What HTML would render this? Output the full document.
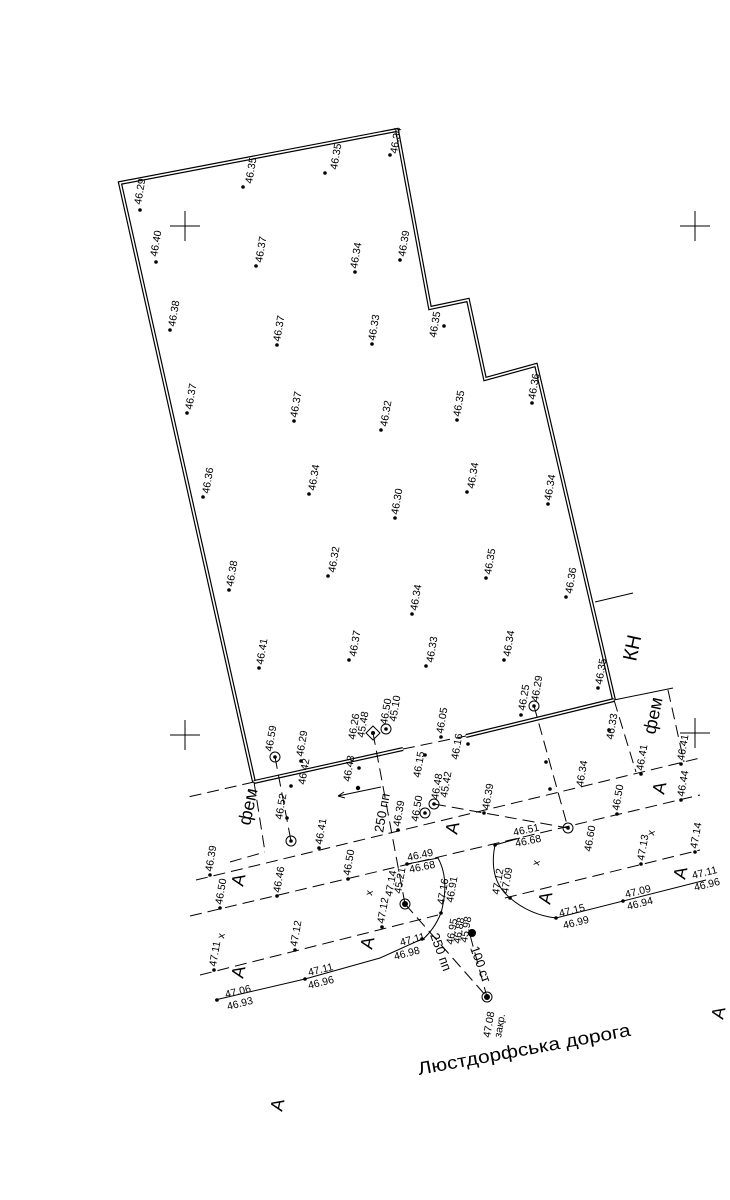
<!DOCTYPE html>
<html><head><meta charset="utf-8"><style>
html,body{margin:0;padding:0;background:#fff}
svg{display:block}
text{font-family:"Liberation Sans Narrow","Liberation Sans",sans-serif;fill:#000}
.p{font-size:10.5px}
.b{font-size:18px}
</style></head><body>
<svg width="730" height="1200" viewBox="0 0 730 1200" xmlns="http://www.w3.org/2000/svg">
<g fill="none" stroke="#000">
<!-- main polygon double line -->
<polyline points="254,782 120,183 397,130 430,308 468,300 485,379 536,365 614,700" stroke-width="4"/>
<polyline points="254,782 120,183 397,130 430,308 468,300 485,379 536,365 614,700" stroke="#fff" stroke-width="1.6"/>
<line x1="254" y1="782" x2="403" y2="749" stroke-width="4"/>
<line x1="254" y1="782" x2="403" y2="749" stroke="#fff" stroke-width="1.6"/>
<line x1="466" y1="736" x2="614" y2="700" stroke-width="4"/>
<line x1="466" y1="736" x2="614" y2="700" stroke="#fff" stroke-width="1.6"/>
<line x1="614" y1="700" x2="673" y2="688" stroke-width="1"/>
<line x1="595" y1="602" x2="633" y2="593" stroke-width="1"/>
<!-- crosses -->
<g stroke-width="1">
<path d="M170 226H200M185 211V241"/><path d="M680 226H710M695 211V241"/>
<path d="M170 735H200M185 720V750"/><path d="M680 733H710M695 718V748"/>
</g>
<!-- dashed lines -->
<g stroke-width="1" stroke-dasharray="12,6">
<line x1="403" y1="749" x2="466" y2="736"/>
<line x1="254" y1="782" x2="188" y2="797"/>
<line x1="196" y1="880" x2="700" y2="758"/>
<line x1="190" y1="916" x2="700" y2="795"/>
<line x1="200" y1="975" x2="438" y2="915"/>
<line x1="505" y1="898" x2="700" y2="850"/>
<line x1="254" y1="782" x2="265" y2="852"/>
<line x1="230" y1="862" x2="265" y2="852"/>
<line x1="614" y1="700" x2="636" y2="772"/>
<line x1="668" y1="690" x2="684" y2="762"/>
<line x1="534" y1="706" x2="568" y2="828"/>
<line x1="434" y1="804" x2="568" y2="828"/>
<line x1="373" y1="733" x2="405" y2="904"/>
<line x1="405" y1="904" x2="487" y2="997"/>
<line x1="470" y1="935" x2="487" y2="997"/>
<line x1="275" y1="757" x2="291" y2="841"/>
</g>
<!-- solid curb lines -->
<g stroke-width="1">
<polyline points="215,1000 305,979 380,958 422,939"/>
<path d="M407 864 L438 858 Q450 880 441 913 Q434 930 422 940"/>
<path d="M520 838 L495 845 Q488 880 510 898 Q530 915 556 918 L706 880"/>
<line x1="338" y1="796" x2="381" y2="787"/>
<path d="M338 796 l6 -4 M338 796 l7 2"/>
</g>
<!-- circles -->
<g stroke-width="1">
<circle cx="275" cy="757" r="5"/><circle cx="291" cy="841" r="5"/>
<circle cx="386" cy="729" r="5"/><circle cx="425" cy="813" r="5"/>
<circle cx="434" cy="804" r="5"/><circle cx="534" cy="706" r="5"/>
<circle cx="568" cy="828" r="5"/><circle cx="405" cy="904" r="5"/>
<circle cx="487" cy="997" r="5"/>
<path d="M373 726 L380 733 L373 740 L366 733Z"/>
</g>
</g>
<g fill="#000">
<circle cx="275" cy="757" r="1.8"/><circle cx="291" cy="841" r="1.8"/><circle cx="386" cy="729" r="1.8"/>
<circle cx="425" cy="813" r="1.8"/><circle cx="434" cy="804" r="1.8"/><circle cx="534" cy="706" r="1.8"/>
<circle cx="568" cy="828" r="1.8"/><circle cx="405" cy="904" r="3"/><circle cx="487" cy="997" r="3"/>
<circle cx="373" cy="733" r="2"/><circle cx="472" cy="933" r="4"/>
<!-- dots -->
<g>
<circle cx="140" cy="210" r="1.8"/><circle cx="156" cy="262" r="1.8"/><circle cx="170" cy="330" r="1.8"/>
<circle cx="187" cy="413" r="1.8"/><circle cx="203" cy="497" r="1.8"/><circle cx="229" cy="590" r="1.8"/>
<circle cx="259" cy="668" r="1.8"/>
<circle cx="243" cy="187" r="1.8"/><circle cx="256" cy="266" r="1.8"/><circle cx="277" cy="345" r="1.8"/>
<circle cx="294" cy="421" r="1.8"/><circle cx="309" cy="494" r="1.8"/><circle cx="328" cy="576" r="1.8"/>
<circle cx="349" cy="660" r="1.8"/>
<circle cx="325" cy="173" r="1.8"/><circle cx="355" cy="272" r="1.8"/><circle cx="372" cy="344" r="1.8"/>
<circle cx="381" cy="430" r="1.8"/><circle cx="395" cy="518" r="1.8"/><circle cx="412" cy="614" r="1.8"/>
<circle cx="426" cy="666" r="1.8"/>
<circle cx="390" cy="155" r="1.8"/><circle cx="400" cy="260" r="1.8"/><circle cx="444" cy="326" r="1.8"/>
<circle cx="457" cy="420" r="1.8"/><circle cx="467" cy="492" r="1.8"/><circle cx="486" cy="578" r="1.8"/>
<circle cx="504" cy="660" r="1.8"/>
<circle cx="532" cy="403" r="1.8"/><circle cx="548" cy="504" r="1.8"/><circle cx="566" cy="597" r="1.8"/>
<circle cx="598" cy="688" r="1.8"/><circle cx="521" cy="715" r="1.8"/><circle cx="609" cy="730" r="1.8"/>
<circle cx="301" cy="761" r="1.8"/><circle cx="291" cy="786" r="1.8"/><circle cx="287" cy="818" r="1.8"/>
<circle cx="319" cy="848" r="1.8"/><circle cx="359" cy="768" r="1.8"/><circle cx="358" cy="788" r="2.2"/>
<circle cx="441" cy="737" r="1.8"/><circle cx="425" cy="755" r="1.8"/><circle cx="398" cy="830" r="1.8"/>
<circle cx="210" cy="875" r="1.8"/><circle cx="220" cy="908" r="1.8"/><circle cx="277" cy="896" r="1.8"/>
<circle cx="348" cy="879" r="1.8"/><circle cx="407" cy="864" r="1.8"/><circle cx="382" cy="927" r="1.8"/>
<circle cx="295" cy="950" r="1.8"/><circle cx="214" cy="970" r="1.8"/><circle cx="422" cy="939" r="1.8"/>
<circle cx="305" cy="979" r="1.8"/><circle cx="217" cy="1000" r="1.8"/><circle cx="441" cy="913" r="1.8"/>
<circle cx="468" cy="744" r="1.8"/><circle cx="484" cy="813" r="1.8"/><circle cx="550" cy="789" r="1.8"/>
<circle cx="617" cy="814" r="1.8"/><circle cx="641" cy="774" r="1.8"/><circle cx="681" cy="764" r="1.8"/>
<circle cx="681" cy="800" r="1.8"/><circle cx="641" cy="864" r="1.8"/><circle cx="695" cy="852" r="1.8"/>
<circle cx="556" cy="918" r="1.8"/><circle cx="623" cy="901" r="1.8"/><circle cx="495" cy="845" r="1.8"/>
<circle cx="510" cy="898" r="1.8"/><circle cx="546" cy="762" r="1.8"/>
</g>
</g>
<!-- point labels -->
<g class="p">
<text transform="translate(141,205) rotate(-80)">46.29</text>
<text transform="translate(157,257) rotate(-80)">46.40</text>
<text transform="translate(175,327) rotate(-80)">46.38</text>
<text transform="translate(192,410) rotate(-80)">46.37</text>
<text transform="translate(209,494) rotate(-80)">46.36</text>
<text transform="translate(233,587) rotate(-80)">46.38</text>
<text transform="translate(263,665) rotate(-80)">46.41</text>
<text transform="translate(252,184) rotate(-80)">46.35</text>
<text transform="translate(262,263) rotate(-80)">46.37</text>
<text transform="translate(280,342) rotate(-80)">46.37</text>
<text transform="translate(297,418) rotate(-80)">46.37</text>
<text transform="translate(315,491) rotate(-80)">46.34</text>
<text transform="translate(335,573) rotate(-80)">46.32</text>
<text transform="translate(356,657) rotate(-80)">46.37</text>
<text transform="translate(337,170) rotate(-80)">46.35</text>
<text transform="translate(357,269) rotate(-80)">46.34</text>
<text transform="translate(375,341) rotate(-80)">46.33</text>
<text transform="translate(387,427) rotate(-80)">46.32</text>
<text transform="translate(398,515) rotate(-80)">46.30</text>
<text transform="translate(417,611) rotate(-80)">46.34</text>
<text transform="translate(433,663) rotate(-80)">46.33</text>
<text transform="translate(397,154) rotate(-80)">46.34</text>
<text transform="translate(405,257) rotate(-80)">46.39</text>
<text transform="translate(436,338) rotate(-80)">46.35</text>
<text transform="translate(460,417) rotate(-80)">46.35</text>
<text transform="translate(474,489) rotate(-80)">46.34</text>
<text transform="translate(491,575) rotate(-80)">46.35</text>
<text transform="translate(510,657) rotate(-80)">46.34</text>
<text transform="translate(535,400) rotate(-80)">46.36</text>
<text transform="translate(551,501) rotate(-80)">46.34</text>
<text transform="translate(572,594) rotate(-80)">46.36</text>
<text transform="translate(602,685) rotate(-80)">46.35</text>
<text transform="translate(525,711) rotate(-80)">46.25</text>
<text transform="translate(538,702) rotate(-80)">46.29</text>
<text transform="translate(613,740) rotate(-80)">46.33</text>
<text transform="translate(272,752) rotate(-80)">46.59</text>
<text transform="translate(303,757) rotate(-80)">46.29</text>
<text transform="translate(305,785) rotate(-80)">46.42</text>
<text transform="translate(282,820) rotate(-80)">46.52</text>
<text transform="translate(322,845) rotate(-80)">46.41</text>
<text transform="translate(355,740) rotate(-80)">46.26</text>
<text transform="translate(364,738) rotate(-80)">45.48</text>
<text transform="translate(387,725) rotate(-80)">46.50</text>
<text transform="translate(396,722) rotate(-80)">45.10</text>
<text transform="translate(350,782) rotate(-80)">46.48</text>
<text transform="translate(443,734) rotate(-80)">46.05</text>
<text transform="translate(420,778) rotate(-80)">46.15</text>
<text transform="translate(418,822) rotate(-80)">46.50</text>
<text transform="translate(438,800) rotate(-80)">46.48</text>
<text transform="translate(447,798) rotate(-80)">45.42</text>
<text transform="translate(400,827) rotate(-80)">46.39</text>
<text transform="translate(458,760) rotate(-80)">46.16</text>
<text transform="translate(489,810) rotate(-80)">46.39</text>
<text transform="translate(583,787) rotate(-80)">46.34</text>
<text transform="translate(619,811) rotate(-80)">46.50</text>
<text transform="translate(643,771) rotate(-80)">46.41</text>
<text transform="translate(684,761) rotate(-80)">46.41</text>
<text transform="translate(684,797) rotate(-80)">46.44</text>
<text transform="translate(591,852) rotate(-80)">46.60</text>
<text transform="translate(644,861) rotate(-80)">47.13</text>
<text transform="translate(697,849) rotate(-80)">47.14</text>
<text transform="translate(212,872) rotate(-80)">46.39</text>
<text transform="translate(222,905) rotate(-80)">46.50</text>
<text transform="translate(280,893) rotate(-80)">46.46</text>
<text transform="translate(350,876) rotate(-80)">46.50</text>
<text transform="translate(384,924) rotate(-80)">47.12</text>
<text transform="translate(297,947) rotate(-80)">47.12</text>
<text transform="translate(216,967) rotate(-80)">47.11</text>
<text transform="translate(392,897) rotate(-80)">47.14</text>
<text transform="translate(401,894) rotate(-80)">45.21</text>
<text transform="translate(444,905) rotate(-80)">47.16</text>
<text transform="translate(453,903) rotate(-80)">46.91</text>
<text transform="translate(453,945) rotate(-80)">46.95</text>
<text transform="translate(460,944) rotate(-80)">46.88</text>
<text transform="translate(467,943) rotate(-80)">45.98</text>
<text transform="translate(490,1038) rotate(-80)">47.08</text>
<text transform="translate(501,1038) rotate(-80)">закр.</text>
<text transform="translate(499,895) rotate(-80)">47.12</text>
<text transform="translate(508,894) rotate(-80)">47.09</text>
<text transform="translate(408,861) rotate(-12)">46.49</text>
<text transform="translate(410,873) rotate(-12)">46.68</text>
<text transform="translate(514,836) rotate(-12)">46.51</text>
<text transform="translate(516,847) rotate(-12)">46.68</text>
<text transform="translate(401,946) rotate(-15)">47.11</text>
<text transform="translate(395,960) rotate(-15)">46.98</text>
<text transform="translate(309,976) rotate(-14)">47.11</text>
<text transform="translate(309,989) rotate(-14)">46.96</text>
<text transform="translate(226,998) rotate(-14)">47.06</text>
<text transform="translate(228,1010) rotate(-14)">46.93</text>
<text transform="translate(560,917) rotate(-14)">47.15</text>
<text transform="translate(564,929) rotate(-14)">46.99</text>
<text transform="translate(626,898) rotate(-14)">47.09</text>
<text transform="translate(628,910) rotate(-14)">46.94</text>
<text transform="translate(693,879) rotate(-14)">47.11</text>
<text transform="translate(695,891) rotate(-14)">46.96</text>
<text transform="translate(383,833) rotate(-80)" style="font-size:13px">250 пп</text>
<text transform="translate(430,935) rotate(70)" style="font-size:13px">250 пп</text>
<text transform="translate(470,948) rotate(70)" style="font-size:13px">100 ст</text>
<text transform="translate(224,939) rotate(-80)">х</text>
<text transform="translate(372,896) rotate(-80)">х</text>
<text transform="translate(539,866) rotate(-80)">х</text>
<text transform="translate(654,836) rotate(-80)">х</text>
</g>
<!-- big letters -->
<g class="b" style="font-family:'Liberation Sans',sans-serif">
<text transform="translate(243,887) rotate(-78)">А</text>
<text transform="translate(243,979) rotate(-78)">А</text>
<text transform="translate(372,950) rotate(-78)">А</text>
<text transform="translate(457,835) rotate(-78)">А</text>
<text transform="translate(550,905) rotate(-78)">А</text>
<text transform="translate(664,795) rotate(-78)">А</text>
<text transform="translate(685,880) rotate(-78)">А</text>
<text transform="translate(723,1020) rotate(-78)">А</text>
<text transform="translate(282,1112) rotate(-78)">А</text>
<text transform="translate(250,826) rotate(-78)">фем</text>
<text transform="translate(655,735) rotate(-78)">фем</text>
<text transform="translate(636,662) rotate(-78)" style="font-size:20px">КН</text>
<text transform="translate(419,1075) rotate(-10.5)" textLength="216" lengthAdjust="spacingAndGlyphs">Люстдорфська дорога</text>
</g>
</svg>
</body></html>
